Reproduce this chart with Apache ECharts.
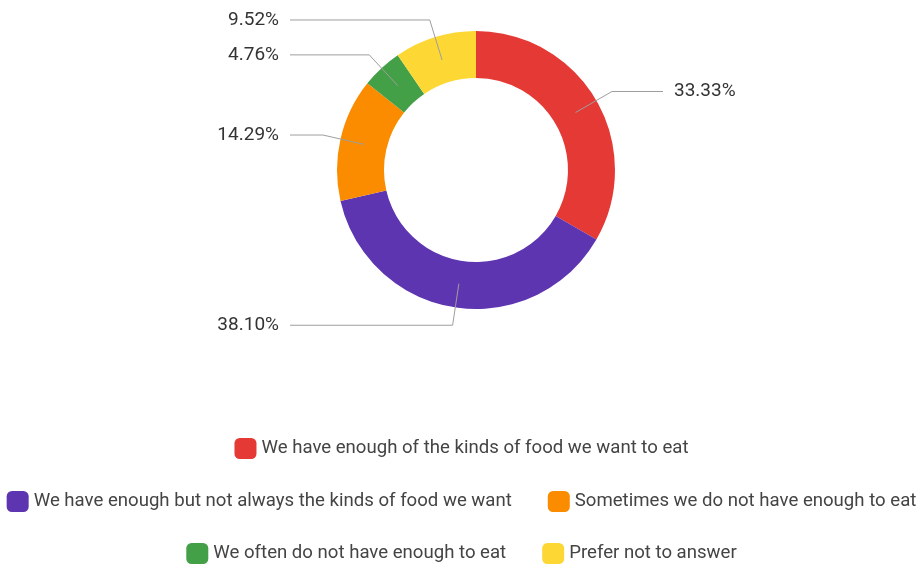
<!DOCTYPE html>
<html>
<head>
<meta charset="utf-8">
<script src="https://cdn.jsdelivr.net/npm/echarts@6/dist/echarts.min.js"></script>
<style>
html,body{margin:0;padding:0;background:#fff;}
#chart{width:923px;height:568px;}
</style>
</head>
<body>
<div id="chart"></div>
<script>
const categories = [
  "We have enough of the kinds of food we want to eat",
  "We have enough but not always the kinds of food we want",
  "Sometimes we do not have enough to eat",
  "We often do not have enough to eat",
  "Prefer not to answer"
];
const percents = [33.33, 38.10, 14.29, 4.76, 9.52];
const colors = ["#E53935", "#5E35B1", "#FB8C00", "#43A047", "#FDD835"];
const legendRows = [[0], [1, 2], [3, 4]];

const chart = echarts.init(document.getElementById('chart'), null, {renderer: 'canvas'});
const FONT = 'Roboto, "Liberation Sans", Arial, sans-serif';
const CX = 476, CY = 170;

const pieData = categories.map((c, i) => ({name: c, value: percents[i], itemStyle: {color: colors[i]}}));
const labelData = categories.map((c, i) => ({name: c, value: percents[i]}));

const rowTops = [438, 491, 543];
const legends = legendRows.map((row, r) => ({
  top: rowTops[r],
  left: 'center',
  padding: [0, 0, 0, 5],
  orient: 'horizontal',
  itemWidth: 22,
  itemHeight: 21,
  itemGap: 36,
  icon: 'roundRect',
  selectedMode: false,
  textStyle: {fontFamily: FONT, fontSize: 18.6, color: '#444'},
  data: row.map(i => ({name: categories[i], itemStyle: {color: colors[i]}}))
}));

chart.setOption({
  backgroundColor: '#fff',
  animation: false,
  color: colors,
  legend: legends,
  series: [
    {
      type: 'pie',
      z: 2,
      center: [CX, CY],
      radius: [92, 139],
      startAngle: 90,
      clockwise: true,
      silent: true,
      label: {show: false},
      labelLine: {show: false},
      data: pieData
    },
    {
      type: 'pie',
      z: 3,
      center: [CX, CY],
      radius: [114, 115],
      startAngle: 90,
      clockwise: true,
      silent: true,
      itemStyle: {color: 'rgba(0,0,0,0)'},
      label: {
        show: true,
        position: 'outside',
        fontFamily: FONT,
        fontSize: 19,
        color: '#333',
        formatter: p => p.value.toFixed(2) + '%'
      },
      labelLine: {
        show: true,
        length: 42,
        length2: 30,
        lineStyle: {color: '#9e9e9e', width: 1}
      },
      labelLayout: function (params) {
        const pts = params.labelLinePoints;
        if (!pts) return {};
        const isLeft = pts[1][0] < CX;
        const endX = isLeft ? CX - 186 : CX + 187;
        const y = pts[1][1];
        return {
          x: isLeft ? endX - 11 : endX + 11,
          y: y,
          align: isLeft ? 'right' : 'left',
          verticalAlign: 'middle',
          labelLinePoints: [pts[0], pts[1], [endX, y]]
        };
      },
      data: labelData
    }
  ]
});
</script>
</body>
</html>
